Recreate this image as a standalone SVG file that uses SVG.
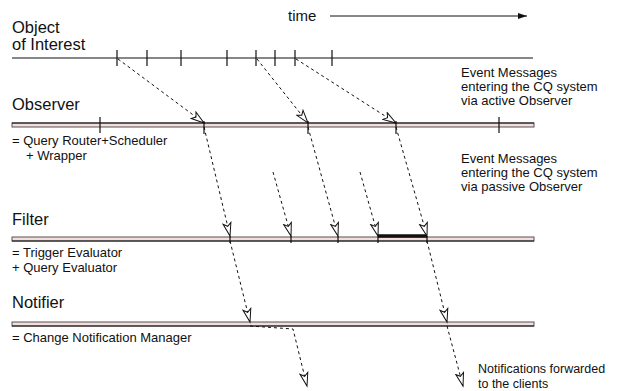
<svg xmlns="http://www.w3.org/2000/svg" width="617" height="391" viewBox="0 0 617 391">
<style>
text{font-family:"Liberation Sans",Arial,sans-serif;fill:#111}
.t{font-size:16.5px}
.s{font-size:13px}
.bar{fill:#f3dddd;stroke:#555;stroke-width:1}
.ln{stroke:#111;stroke-width:1.2;fill:none}
.tk{stroke:#111;stroke-width:1.2}
.d{stroke:#111;stroke-width:1;stroke-dasharray:3,3;fill:none;marker-end:url(#oa)}
</style>
<defs>
<marker id="oa" markerUnits="userSpaceOnUse" markerWidth="16" markerHeight="12" viewBox="0 0 16 12" refX="14" refY="6" orient="auto">
<path d="M1,2 L14,6 L1,10 L4,6 z" fill="#fff" stroke="#111" stroke-width="1"/>
</marker>
<marker id="fa" markerUnits="userSpaceOnUse" markerWidth="10" markerHeight="8" viewBox="0 0 10 8" refX="9" refY="4" orient="auto">
<path d="M0,1 L9,4 L0,7 z" fill="#111"/>
</marker>
</defs>

<g id="time-axis">
<text class="t" x="288" y="21" style="font-size:15px">time</text>
<line x1="330" y1="16" x2="527" y2="16" stroke="#111" stroke-width="1" marker-end="url(#fa)"/>
</g>

<g id="object-of-interest">
<text class="t" x="12" y="33">Object</text>
<text class="t" x="12" y="50">of Interest</text>
<line class="ln" x1="12" y1="58" x2="533" y2="58"/>
<path class="tk" d="M117,50V66M147,50V66M181,50V66M227,50V66M256,50V66M275,50V66M295,50V66M332,50V66"/>
</g>

<g id="observer">
<text class="t" x="12" y="110">Observer</text>
<rect class="bar" x="12" y="123" width="522" height="4"/>
<line x1="12" y1="123" x2="534" y2="123" stroke="#111" stroke-width="1"/>
<path class="tk" d="M100,117V133M204,121V134M308,121V134M396,121V134M499,117V133"/>
<text class="s" x="12" y="145">= Query Router+Scheduler</text>
<text class="s" x="26" y="160">+ Wrapper</text>
</g>

<g id="label-active">
<text class="s" x="461" y="77">Event Messages</text>
<text class="s" x="461" y="91">entering the CQ system</text>
<text class="s" x="461" y="105">via active Observer</text>
</g>

<g id="label-passive">
<text class="s" x="461" y="163">Event Messages</text>
<text class="s" x="461" y="177">entering the CQ system</text>
<text class="s" x="461" y="191">via passive Observer</text>
</g>

<g id="filter">
<text class="t" x="12" y="225">Filter</text>
<rect class="bar" x="12" y="237" width="522" height="4"/>
<line x1="12" y1="241" x2="534" y2="241" stroke="#111" stroke-width="1"/>
<line x1="378" y1="236" x2="427" y2="236" stroke="#111" stroke-width="3.5"/>
<path class="tk" d="M230,236V243M291,236V243M338,236V243M378,236V243M427,236V243"/>
<text class="s" x="12" y="257">= Trigger Evaluator</text>
<text class="s" x="12" y="272">+ Query Evaluator</text>
</g>

<g id="notifier">
<text class="t" x="12" y="308">Notifier</text>
<rect class="bar" x="12" y="322" width="522" height="4"/>
<line x1="12" y1="326" x2="534" y2="326" stroke="#111" stroke-width="1"/>
<text class="s" x="12" y="342">= Change Notification Manager</text>
</g>

<g id="label-clients">
<text class="s" x="478" y="373" style="font-size:12.5px">Notifications forwarded</text>
<text class="s" x="478" y="388" style="font-size:12.5px">to the clients</text>
</g>

<g id="connectors">
<path class="d" d="M118,59L204,123"/>
<path class="d" d="M257,59L308,123"/>
<path class="d" d="M296,59L396,123"/>
<path class="d" d="M204,127L230,236"/>
<path class="d" d="M308,127L338,236"/>
<path class="d" d="M396,127L427,236"/>
<path class="d" d="M273,172L291,236"/>
<path class="d" d="M360,172L378,236"/>
<path class="d" d="M230,241L250,322"/>
<path class="d" d="M427,241L447,322"/>
<path class="d" d="M250,326L293,329L307,386"/>
<path class="d" d="M447,326L463,386"/>
</g>
</svg>
